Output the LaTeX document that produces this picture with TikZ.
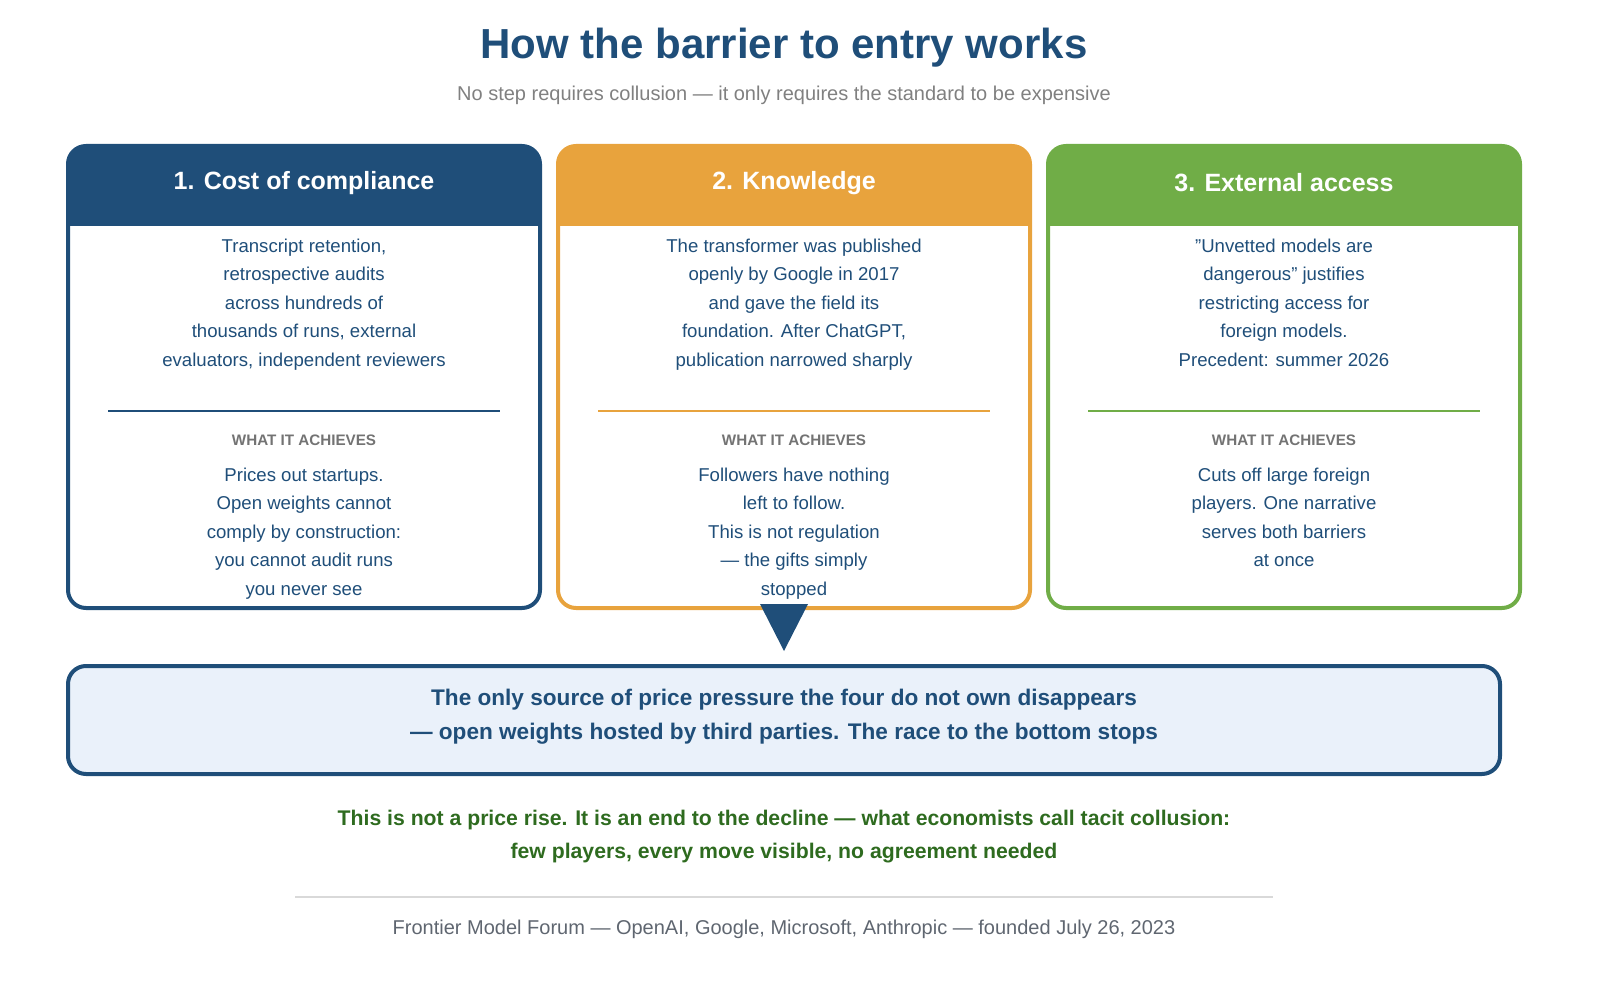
\documentclass[tikz,border=0pt]{standalone}
\usepackage{fontspec}
\setmainfont{Liberation Sans}
\usetikzlibrary{positioning}
\definecolor{navy}{HTML}{1F4E79}
\definecolor{amber}{HTML}{E8A33D}
\definecolor{leaf}{HTML}{70AD47}
\definecolor{pale}{HTML}{EAF1FA}
\definecolor{forest}{HTML}{2E6B1F}
\definecolor{slate}{HTML}{5F6670}
\tikzset{
  body/.style={text=navy, font=\fontsize{9.3}{14.2}\selectfont, align=center, anchor=north},
  head/.style={text=white, font=\fontsize{12.5}{15}\selectfont\bfseries},
  achieve/.style={text=gray!90!black, font=\fontsize{7.6}{9}\selectfont\bfseries},
}
\begin{document}
\begin{tikzpicture}[x=0.5pt,y=-0.5pt]
	\useasboundingbox (0,0) rectangle (1600,1000);
	\node[text=navy, font=\fontsize{21}{25}\selectfont\bfseries] (title) at (784,48) {How the barrier to entry works};
	\node[text=gray, font=\fontsize{10}{12}\selectfont] (sub) at (784,95) {No step requires collusion — it only requires the standard to be expensive};
	% three columns
	\foreach \i/\col/\x/\head in {1/navy/68/1. Cost of compliance, 2/amber/558/2. Knowledge, 3/leaf/1048/3. External access} {
		\fill[\col] (\x,226) [rounded corners=9pt] -- (\x,146) -- (\x+472,146) [sharp corners] -- (\x+472,226) -- cycle;
		\draw[\col, line width=2pt, rounded corners=9pt] (\x,146) rectangle (\x+472,608);
		\node[head] (head\i) at (\x+236,183) {\head};
		\draw[\col, line width=0.8pt] (\x+40,411) -- (\x+432,411);
		\node[achieve] (ach\i) at (\x+236,440) {WHAT IT ACHIEVES};
	}
	\node[body] (txt1) at (304,232) {Transcript retention,\\retrospective audits\\across hundreds of\\thousands of runs, external\\evaluators, independent reviewers};
	\node[body] (txt2) at (794,232) {The transformer was published\\openly by Google in 2017\\and gave the field its\\foundation. After ChatGPT,\\publication narrowed sharply};
	\node[body] (txt3) at (1284,232) {"Unvetted models are\\dangerous" justifies\\restricting access for\\foreign models.\\Precedent: summer 2026};
	\node[body] (res1) at (304,461) {Prices out startups.\\Open weights cannot\\comply by construction:\\you cannot audit runs\\you never see};
	\node[body] (res2) at (794,461) {Followers have nothing\\left to follow.\\This is not regulation\\— the gifts simply\\stopped};
	\node[body] (res3) at (1284,461) {Cuts off large foreign\\players. One narrative\\serves both barriers\\at once};
	% outcome
	\draw[navy, fill=pale, line width=2pt, rounded corners=9pt] (68,666) rectangle (1500,774);
	\node[text=navy, align=center, font=\fontsize{11.3}{17}\selectfont\bfseries] (outcome) at (784,717) {The only source of price pressure the four do not own disappears\\— open weights hosted by third parties. The race to the bottom stops};
	\coordinate (tip) at (784,651);
	\fill[navy] (760,604) -- (808,604) -- (tip) -- cycle;
	\node[text=forest, align=center, font=\fontsize{10.6}{16.5}\selectfont\bfseries] (note) at (784,837) {This is not a price rise. It is an end to the decline — what economists call tacit collusion:\\few players, every move visible, no agreement needed};
	\draw[gray!30, line width=0.6pt] (295,897) -- (1273,897);
	\node[text=slate, font=\fontsize{10}{12}\selectfont] (foot) at (784,929) {Frontier Model Forum — OpenAI, Google, Microsoft, Anthropic — founded July 26, 2023};
\end{tikzpicture}
\end{document}
